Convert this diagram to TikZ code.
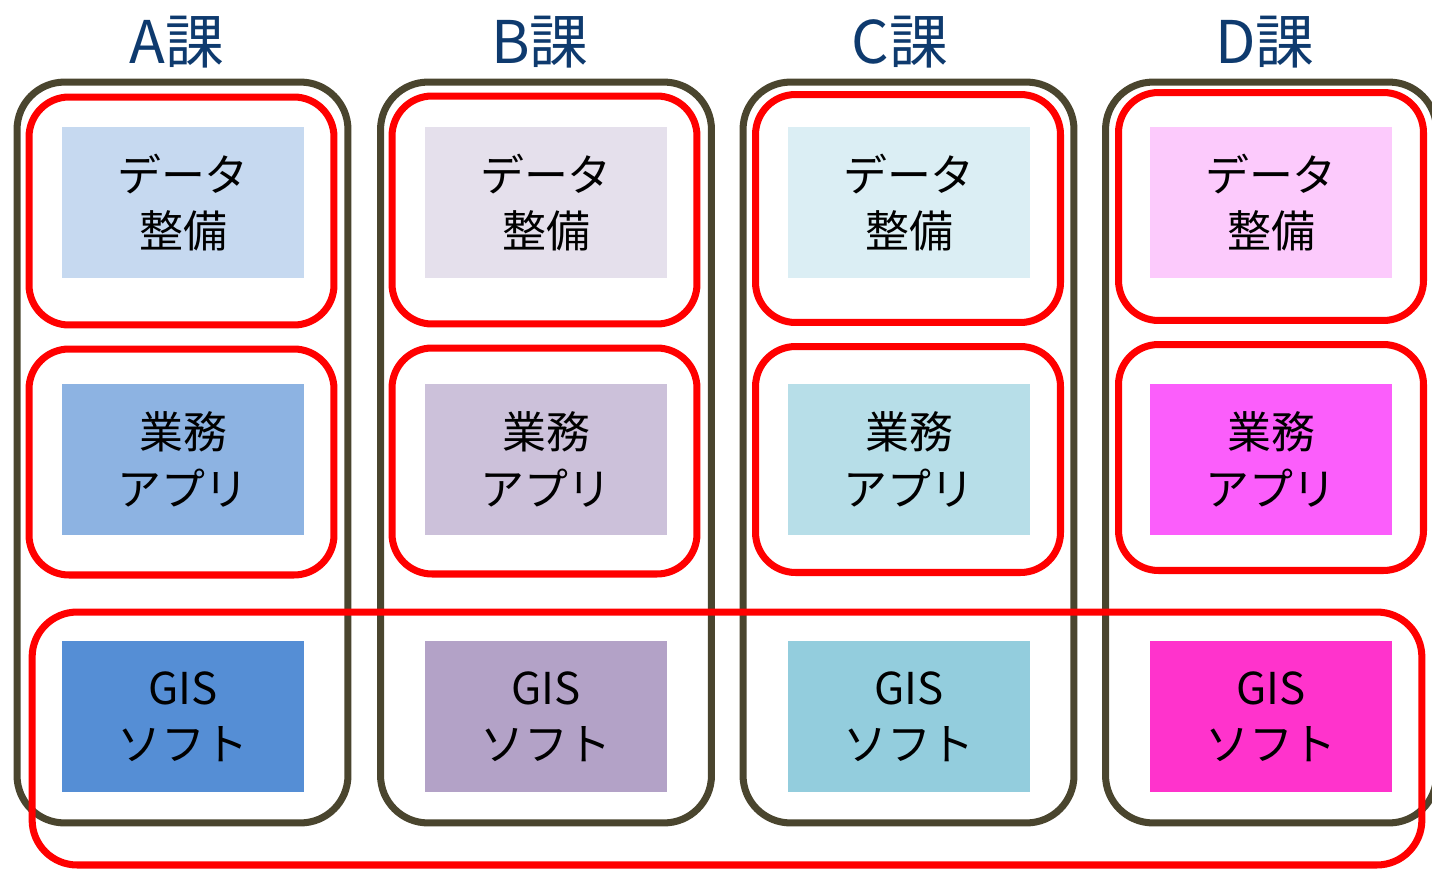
\documentclass[tikz,border=0pt]{standalone}
\usepackage{fontspec}
\setmainfont{Noto Sans CJK JP}
\definecolor{darkframe}{RGB}{74,69,46}
\definecolor{redframe}{RGB}{255,0,0}
\definecolor{titleblue}{RGB}{14,58,110}
\definecolor{aone}{HTML}{C6D9F0}\definecolor{atwo}{HTML}{8DB3E2}\definecolor{athree}{HTML}{558ED5}
\definecolor{bone}{HTML}{E5E0EC}\definecolor{btwo}{HTML}{CCC1DA}\definecolor{bthree}{HTML}{B3A2C7}
\definecolor{cone}{HTML}{DBEEF4}\definecolor{ctwo}{HTML}{B7DEE8}\definecolor{cthree}{HTML}{93CDDD}
\definecolor{done}{HTML}{FCCAFC}\definecolor{dtwo}{HTML}{FB5EFB}\definecolor{dthree}{HTML}{FF33CC}
\begin{document}
\begin{tikzpicture}[x=0.02cm,y=-0.02cm,
  darkbox/.style={draw=darkframe,line width=4pt,rounded corners=0.95cm,minimum width=6.62cm,minimum height=14.82cm,inner sep=0pt},
  redbox/.style={draw=redframe,line width=4pt,rounded corners=0.8cm,minimum width=6.1cm,inner sep=0pt},
  fillbox/.style={minimum width=4.84cm,minimum height=3.02cm,inner sep=0pt,align=center,
    font=\fontsize{25pt}{32pt}\selectfont,text=black},
  title/.style={font=\fontsize{33.5pt}{36pt}\selectfont,text=titleblue,inner sep=0pt}]
\useasboundingbox (0,0) rectangle (1432,869);
\clip (0,0) rectangle (1432,869);
% titles
\node[title] (ta) at (177,42) {A課};
\node[title] (tb) at (540,42) {B課};
\node[title] (tc) at (900,42) {C課};
\node[title] (td) at (1265,42) {D課};
% dark frames
\node[darkbox] (da) at (182.5,452.5) {};
\node[darkbox] (db) at (546,452.5) {};
\node[darkbox] (dc) at (908.5,452.5) {};
\node[darkbox] (dd) at (1271,452.5) {};
% red frames
\node[redbox,minimum height=4.56cm] (ra1) at (181.5,211) {};
\node[redbox,minimum height=4.52cm] (ra2) at (181.5,462) {};
\node[redbox,minimum height=4.56cm] (rb1) at (544.5,210) {};
\node[redbox,minimum height=4.52cm] (rb2) at (544.5,461) {};
\node[redbox,minimum height=4.56cm] (rc1) at (908,208.5) {};
\node[redbox,minimum height=4.52cm] (rc2) at (908,459.5) {};
\node[redbox,minimum height=4.56cm] (rd1) at (1271,206.5) {};
\node[redbox,minimum height=4.52cm] (rd2) at (1271,457.5) {};
\node[draw=redframe,line width=4pt,rounded corners=0.9cm,minimum width=27.8cm,minimum height=5.06cm,inner sep=0pt] (rall) at (727,738.5) {};
% filled boxes
\node[fillbox,fill=aone] (a1) at (183,202.5) {データ\\整備};
\node[fillbox,fill=atwo] (a2) at (183,459.5) {業務\\アプリ};
\node[fillbox,fill=athree] (a3) at (183,716.5) {GIS\\ソフト};
\node[fillbox,fill=bone] (b1) at (546,202.5) {データ\\整備};
\node[fillbox,fill=btwo] (b2) at (546,459.5) {業務\\アプリ};
\node[fillbox,fill=bthree] (b3) at (546,716.5) {GIS\\ソフト};
\node[fillbox,fill=cone] (c1) at (909,202.5) {データ\\整備};
\node[fillbox,fill=ctwo] (c2) at (909,459.5) {業務\\アプリ};
\node[fillbox,fill=cthree] (c3) at (909,716.5) {GIS\\ソフト};
\node[fillbox,fill=done] (d1) at (1271,202.5) {データ\\整備};
\node[fillbox,fill=dtwo] (d2) at (1271,459.5) {業務\\アプリ};
\node[fillbox,fill=dthree] (d3) at (1271,716.5) {GIS\\ソフト};
\end{tikzpicture}
\end{document}
